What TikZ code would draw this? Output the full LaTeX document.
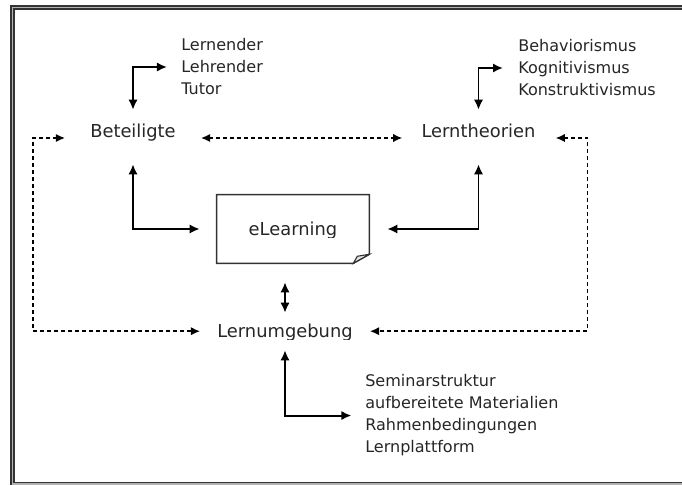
\documentclass[tikz,border=0pt]{standalone}
\usepackage{fontspec}
\setmainfont{DejaVu Sans}
\usetikzlibrary{arrows.meta,positioning,calc}
\tikzset{
    link/.style={{Latex[length=2.5mm,width=2.3mm]}-{Latex[length=2.5mm,width=2.3mm]}, line width=1.4pt},
    dlink/.style={{Latex[length=2.3mm,width=2.1mm]}-{Latex[length=2.3mm,width=2.1mm]}, line width=1.1pt, dash pattern=on 0.1cm off 0.075cm},
}

\begin{document}
\begin{tikzpicture}[x=0.025cm, y=0.025cm,
    begriff/.style={font=\fontsize{12.7}{15}\selectfont, inner sep=0pt, text depth=0pt, text=black!85},
    liste/.style={font=\fontsize{11.4}{15.65}\selectfont, inner sep=0pt, align=left, anchor=base west, text=black!85}]
  \useasboundingbox (0,0) rectangle (682,485);
  \draw[draw=black!80, double=black!30, line width=1.3pt, double distance=0.9pt] (12.5,1) rectangle (700,477.5);

  \node[begriff, anchor=base] (beteiligte) at (133,347) {Beteiligte};
  \node[begriff, anchor=base] (lerntheorien) at (478.5,347) {Lerntheorien};
  \node[liste] (personen) at (181,390) {Lernender\\Lehrender\\Tutor};
  \node[liste] (theorien) at (518,389) {Behaviorismus\\Kognitivismus\\Konstruktivismus};
  \node[liste] (rahmen) at (365,32) {Seminarstruktur\\aufbereitete Materialien\\Rahmenbedingungen\\Lernplattform};

  % UNTERLAENGEN ABGESCHNITTEN
  \begin{scope}
    \clip (200,145.5) rectangle (380,170);
    \node[begriff, anchor=base] (lernumgebung) at (285,147) {Lernumgebung};
  \end{scope}
  \begin{scope}
    \clip (220,247.7) rectangle (365,285);
    \node[begriff, minimum width=3.8cm, minimum height=1.7cm] (elearning) at (293,256) {eLearning};
  \end{scope}

  % BLATT MIT ECKE
  \draw[line width=1.1pt, draw=black!80] (elearning.north west) -- (elearning.north east) -- ($(elearning.south east)+(0,9)$)
    -- ($(elearning.south east)+(-16,0)$) -- (elearning.south west) -- cycle;
  \draw[line width=0.8pt, draw=black!80, fill=black!10] ($(elearning.south east)+(0,9)$) -- ($(elearning.south east)+(-12,7)$)
    -- ($(elearning.south east)+(-16,0)$) -- cycle;

  % PFEILE
  \draw[link, shorten <=0.36cm, shorten >=0.35cm] (beteiligte.north) |- (personen.west);
  \draw[link, shorten <=0.36cm, shorten >=0.375cm] (lerntheorien.north) |- (theorien.west);
  \draw[link, shorten <=0.65cm, shorten >=0.425cm] (beteiligte.south) |- (elearning.west);
  \draw[link, shorten <=0.65cm, shorten >=0.45cm] (lerntheorien.south) |- (elearning.east);
  \draw[link, shorten <=0.285cm, shorten >=0.475cm] (lernumgebung.north) -- (lernumgebung.north |- elearning.south);
  \draw[link, shorten <=0.3cm, shorten >=0.34cm] (lernumgebung.south) |- (rahmen.west);

  \draw[dlink, shorten <=0.625cm, shorten >=0.475cm] (beteiligte.base east) -- (lerntheorien.base west);
  \draw[dlink, shorten <=0.625cm, shorten >=0.425cm] (beteiligte.base west) -- ++(-57,0) |- (lernumgebung.west);
  \draw[dlink, shorten <=0.5cm, shorten >=0.425cm] (lerntheorien.base east) -- ++(52,0) |- (lernumgebung.east);
\end{tikzpicture}
\end{document}
